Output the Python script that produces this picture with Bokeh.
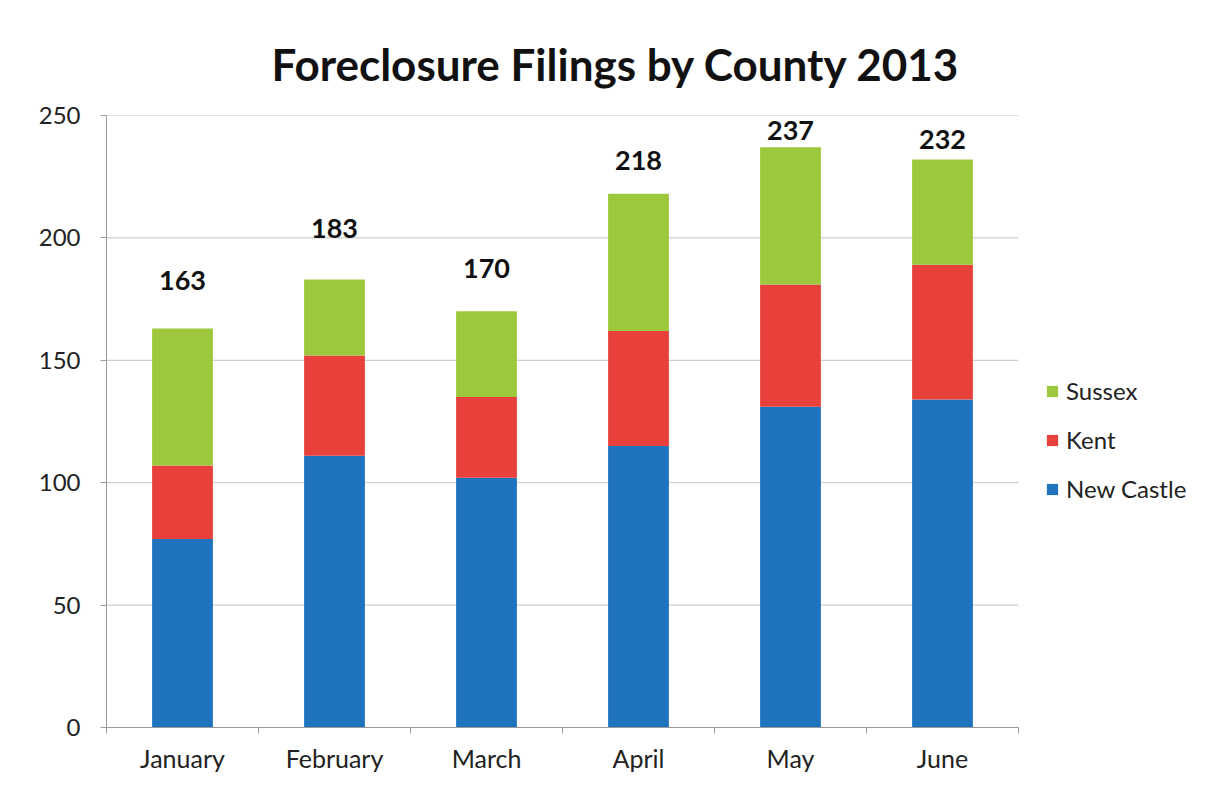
from bokeh.plotting import figure
from bokeh.models import (Range1d, FixedTicker, Legend, LegendItem,
                          ColumnDataSource)
from bokeh.core.properties import value
from bokeh.embed import file_html
from bokeh.resources import INLINE

months = ["January", "February", "March", "April", "May", "June"]
new_castle = [77, 111, 102, 115, 131, 134]
kent = [30, 41, 33, 47, 50, 55]
sussex = [56, 31, 35, 56, 56, 43]
totals = [163, 183, 170, 218, 237, 232]
y_ticks = [0, 50, 100, 150, 200, 250]

# layout-only: vertical offset of each total label above its bar (data units)
label_offsets = [19.6, 20.8, 17.5, 13.6, 6.9, 8.2]

FONT = "Lato"
colors = ["#1F74BD", "#E8403A", "#9DC83D"]
series = ["New Castle", "Kent", "Sussex"]

W, H = 1207, 795
B_LEFT, B_RIGHT, B_TOP, B_BOTTOM = 106, 10, 115, 68
DATA_W = 912  # pixel width of the category area inside the frame
frame_w = W - B_LEFT - B_RIGHT
n = len(months)
x_end = n * frame_w / DATA_W

xs = [i + 0.5 for i in range(n)]
src = ColumnDataSource(dict(x=xs, nc=new_castle, kent=kent, sussex=sussex,
                            total=totals,
                            ly=[t + o for t, o in zip(totals, label_offsets)],
                            lt=[str(t) for t in totals]))

p = figure(width=W, height=H, output_backend="svg", toolbar_location=None,
           x_range=Range1d(0, x_end), y_range=Range1d(0, 250),
           min_border_left=B_LEFT, min_border_right=B_RIGHT,
           min_border_top=B_TOP, min_border_bottom=B_BOTTOM,
           title="Foreclosure Filings by County 2013")
p.outline_line_color = None
p.background_fill_color = "white"
p.border_fill_color = "white"

p.title.align = "left"
p.title.offset = 165
p.title.standoff = 52
p.title.text_font = FONT
p.title.text_font_style = "bold"
p.title.text_font_size = "44px"
p.title.text_color = "#111111"

# horizontal grid lines limited to the category area
p.segment(x0=0, x1=n, y0=y_ticks, y1=y_ticks, line_color="#c4c4c4",
          line_width=1)

renderers = p.vbar_stack(["nc", "kent", "sussex"], x="x", width=0.4,
                         color=colors, source=src, line_color=None)

p.text(x="x", y="ly", text="lt", source=src, text_align="center",
       text_baseline="middle", text_font=value(FONT),
       text_font_style="bold", text_font_size="27px", text_color="#111111")

# axes
p.xaxis.bounds = (0, n)
p.xaxis.ticker = FixedTicker(ticks=xs, minor_ticks=list(range(n + 1)))
p.xaxis.major_label_overrides = {x: m for x, m in zip(xs, months)}
p.xaxis.major_tick_line_color = None
p.xaxis.minor_tick_out = 6
p.xaxis.minor_tick_in = 0
p.xaxis.minor_tick_line_color = "#9a9a9a"
p.xaxis.axis_line_color = "#9a9a9a"
p.xaxis.major_label_text_font = FONT
p.xaxis.major_label_text_font_size = "25px"
p.xaxis.major_label_text_color = "#222222"
p.xaxis.major_label_standoff = 9

p.yaxis.ticker = FixedTicker(ticks=y_ticks)
p.yaxis.minor_tick_line_color = None
p.yaxis.major_tick_out = 6
p.yaxis.major_tick_in = 0
p.yaxis.major_tick_line_color = "#9a9a9a"
p.yaxis.axis_line_color = "#9a9a9a"
p.yaxis.major_label_text_font = FONT
p.yaxis.major_label_text_font_size = "24px"
p.yaxis.major_label_text_color = "#222222"
p.yaxis.major_label_standoff = 20

p.xgrid.grid_line_color = None
p.ygrid.grid_line_color = None

items = [LegendItem(label=series[i], renderers=[renderers[i]]) for i in (2, 1, 0)]
legend = Legend(items=items, location=(939, 224), orientation="vertical",
                label_text_font=FONT, label_text_font_size="24px",
                label_text_color="#222222", glyph_width=14, glyph_height=14,
                label_height=24, spacing=20, label_standoff=7,
                background_fill_alpha=0, border_line_color=None, padding=10,
                margin=0)
p.add_layout(legend, "center")

open("out.html", "w").write(file_html(p, INLINE))
